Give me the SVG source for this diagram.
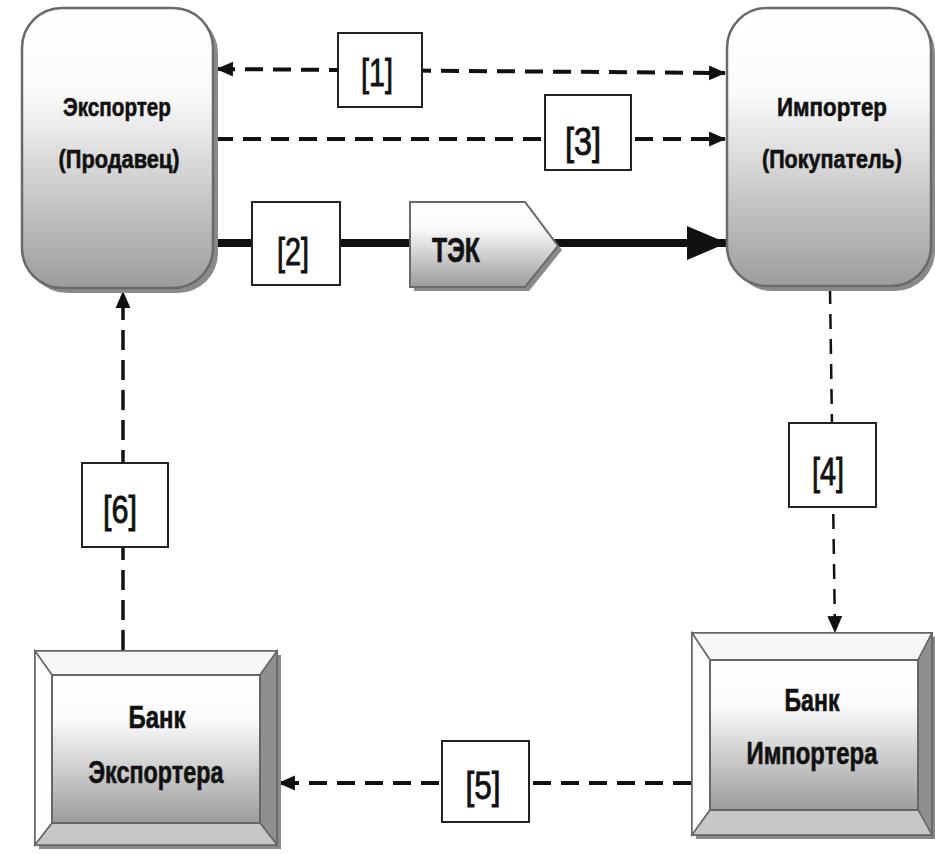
<svg xmlns="http://www.w3.org/2000/svg" width="935" height="854" viewBox="0 0 935 854">
<style>
.node{font-family:"Liberation Sans",Arial,sans-serif;font-weight:bold;fill:#111;stroke:#111;stroke-width:0.6;text-anchor:middle}
.lbl{font-family:"Liberation Sans",Arial,sans-serif;fill:#111;stroke:#111;stroke-width:0.9;text-anchor:middle;font-size:39px}
.box{fill:#fff;stroke:#222;stroke-width:2}
.dash{fill:none;stroke:#111;stroke-width:4;stroke-dasharray:18 10}
.vdash{fill:none;stroke:#111;stroke-width:3.5;stroke-dasharray:20 10}
.vdash2{fill:none;stroke:#111;stroke-width:2.5;stroke-dasharray:15 10}
.thick{fill:none;stroke:#111;stroke-width:8}
.round{fill:url(#g);stroke:#6a6a6a;stroke-width:2.5}
.shadow{fill:#8a8a8a}
</style>
<defs>
<linearGradient id="g" x1="0" y1="0" x2="0" y2="1">
<stop offset="0" stop-color="#ffffff"/>
<stop offset="0.3" stop-color="#fbfbfb"/>
<stop offset="1" stop-color="#9c9c9c"/>
</linearGradient>
<marker id="ah" markerUnits="userSpaceOnUse" viewBox="0 0 16 16" refX="15" refY="8" markerWidth="17" markerHeight="17" orient="auto-start-reverse">
<path d="M0,1 L16,8 L0,15 z" fill="#111"/>
</marker>
<marker id="ahbig" markerUnits="userSpaceOnUse" viewBox="0 0 40 34" refX="39" refY="17" markerWidth="40" markerHeight="34" orient="auto">
<path d="M0,0 L40,17 L0,34 z" fill="#111"/>
</marker>
</defs>

<g id="connectors">
<path id="c1" class="dash" d="M217 69 L725 73" marker-start="url(#ah)" marker-end="url(#ah)"/>
<path id="c3" class="dash" d="M215 139 L725 139" marker-end="url(#ah)"/>
<path id="c2" class="thick" d="M214 243 L726 243" marker-end="url(#ahbig)"/>
<path id="c4" class="vdash2" d="M830 289 L835 632" marker-end="url(#ah)"/>
<path id="c5" class="dash" d="M691 783 L279 783" marker-end="url(#ah)"/>
<path id="c6" class="vdash" d="M123 650 L123 292" marker-end="url(#ah)"/>
</g>

<g id="exporter">
<rect class="shadow" x="27" y="13" width="191" height="280" rx="40"/>
<rect class="round" x="22" y="8" width="191" height="280" rx="40"/>
<text class="node" x="117" y="116" font-size="26" textLength="108" lengthAdjust="spacingAndGlyphs">Экспортер</text>
<text class="node" x="119" y="168" font-size="26" textLength="121" lengthAdjust="spacingAndGlyphs">(Продавец)</text>
</g>

<g id="importer">
<rect class="shadow" x="732" y="13" width="203" height="278" rx="40"/>
<rect class="round" x="727" y="8" width="204" height="278" rx="40"/>
<text class="node" x="832" y="116" font-size="26" textLength="110" lengthAdjust="spacingAndGlyphs">Импортер</text>
<text class="node" x="832" y="168" font-size="25" textLength="140" lengthAdjust="spacingAndGlyphs">(Покупатель)</text>
</g>

<g id="tek">
<path class="shadow" d="M414 206 L529 206 L562 250 L529 291 L414 291 z"/>
<path d="M410 202 L525 202 L558 246 L525 287 L410 287 z" fill="url(#g)" stroke="#6a6a6a" stroke-width="2"/>
<text class="node" x="456" y="262" font-size="35" textLength="48" lengthAdjust="spacingAndGlyphs">ТЭК</text>
</g>

<g id="bank-exporter">
<rect class="shadow" x="39" y="655" width="242" height="194"/>
<rect x="35" y="651" width="242" height="194" fill="#cfcfcf" stroke="#666" stroke-width="2"/>
<path d="M35 651 L277 651 L260 675 L52 675 z" fill="#f7f7f7" stroke="#666" stroke-width="1.5"/>
<path d="M35 651 L52 675 L52 823 L35 845 z" fill="#fdfdfd" stroke="#666" stroke-width="1.5"/>
<path d="M277 651 L277 845 L260 823 L260 675 z" fill="#8f8f8f" stroke="#666" stroke-width="1.5"/>
<path d="M35 845 L52 823 L260 823 L277 845 z" fill="#c6c6c6" stroke="#666" stroke-width="1.5"/>
<rect x="52" y="675" width="208" height="148" fill="url(#g)" stroke="#666" stroke-width="2"/>
<text class="node" x="157" y="728" font-size="31" textLength="57" lengthAdjust="spacingAndGlyphs">Банк</text>
<text class="node" x="156" y="783" font-size="31" textLength="135" lengthAdjust="spacingAndGlyphs">Экспортера</text>
</g>

<g id="bank-importer">
<rect class="shadow" x="696" y="637" width="239" height="202"/>
<rect x="692" y="633" width="240" height="202" fill="#cfcfcf" stroke="#666" stroke-width="2"/>
<path d="M692 633 L932 633 L918 660 L710 660 z" fill="#f7f7f7" stroke="#666" stroke-width="1.5"/>
<path d="M692 633 L710 660 L710 810 L692 835 z" fill="#fdfdfd" stroke="#666" stroke-width="1.5"/>
<path d="M932 633 L932 835 L918 810 L918 660 z" fill="#8f8f8f" stroke="#666" stroke-width="1.5"/>
<path d="M692 835 L710 810 L918 810 L932 835 z" fill="#c6c6c6" stroke="#666" stroke-width="1.5"/>
<rect x="710" y="660" width="208" height="150" fill="url(#g)" stroke="#666" stroke-width="2"/>
<text class="node" x="812" y="711" font-size="31" textLength="55" lengthAdjust="spacingAndGlyphs">Банк</text>
<text class="node" x="812" y="764" font-size="31" textLength="131" lengthAdjust="spacingAndGlyphs">Импортера</text>
</g>

<g id="label1">
<rect class="box" x="338" y="33" width="84" height="74"/>
<text class="lbl" x="377" y="86" textLength="32" lengthAdjust="spacingAndGlyphs">[1]</text>
</g>
<g id="label3">
<rect class="box" x="545" y="95" width="86" height="75"/>
<text class="lbl" x="583" y="155" textLength="36" lengthAdjust="spacingAndGlyphs">[3]</text>
</g>
<g id="label2">
<rect class="box" x="252" y="202" width="88" height="83"/>
<text class="lbl" x="293" y="265" textLength="32" lengthAdjust="spacingAndGlyphs">[2]</text>
</g>
<g id="label4">
<rect class="box" x="789" y="423" width="87" height="84"/>
<text class="lbl" x="828" y="485" textLength="32" lengthAdjust="spacingAndGlyphs">[4]</text>
</g>
<g id="label6">
<rect class="box" x="82" y="463" width="86" height="84"/>
<text class="lbl" x="120" y="523" textLength="34" lengthAdjust="spacingAndGlyphs">[6]</text>
</g>
<g id="label5">
<rect class="box" x="442" y="741" width="87" height="81"/>
<text class="lbl" x="483" y="799" textLength="35" lengthAdjust="spacingAndGlyphs">[5]</text>
</g>
</svg>
